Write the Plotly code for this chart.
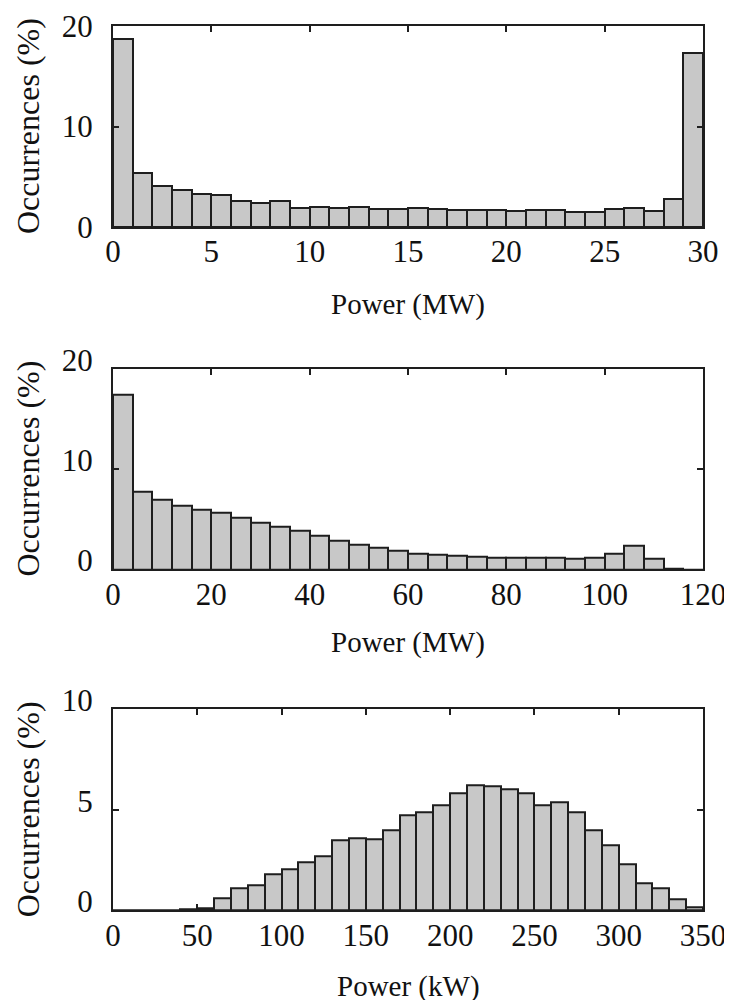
import plotly.graph_objects as go

# ---------------- data ----------------
# Panel 1: power in MW, 1 MW bins from 0 to 30
p1_bin_width = 1
p1_values = [18.7, 5.4, 4.05, 3.7, 3.3, 3.15, 2.6, 2.4, 2.55, 1.9,
             1.95, 1.9, 2.0, 1.8, 1.8, 1.85, 1.8, 1.65, 1.65, 1.65,
             1.6, 1.65, 1.65, 1.5, 1.45, 1.75, 1.9, 1.6, 2.8, 17.35]

# Panel 2: power in MW, 4 MW bins from 0 to 120
p2_bin_width = 4
p2_values = [17.4, 7.7, 6.9, 6.3, 5.9, 5.6, 5.1, 4.6, 4.2, 3.8,
             3.4, 2.85, 2.5, 2.2, 1.9, 1.58, 1.5, 1.35, 1.3, 1.15,
             1.15, 1.15, 1.2, 1.05, 1.15, 1.55, 2.4, 1.1, 0.07, 0.0]

# Panel 3: power in kW, 10 kW bins from 0 to 350
p3_bin_width = 10
p3_values = [0.0, 0.0, 0.0, 0.0, 0.03, 0.08, 0.6, 1.07, 1.22, 1.79,
             2.04, 2.4, 2.69, 3.48, 3.6, 3.53, 4.0, 4.74, 4.88, 5.24,
             5.84, 6.22, 6.17, 6.03, 5.84, 5.24, 5.37, 4.89, 3.98, 3.25,
             2.27, 1.34, 1.11, 0.53, 0.15]

x_titles = ["Power (MW)", "Power (MW)", "Power (kW)"]
y_title = "Occurrences (%)"
x_ranges = [[0, 30], [0, 120], [0, 350]]
x_dticks = [5, 20, 50]
y_ranges = [[0, 20], [0, 20], [0, 10]]
y_dticks = [10, 10, 5]

# ---------------- figure ----------------
W, H = 732, 1000
FONT = "Liberation Serif, Times New Roman, serif"
BAR_FILL = "#c8c8c8"
EDGE = "#1e1e1e"
TXT = "#111111"

panels = [(p1_values, p1_bin_width), (p2_values, p2_bin_width), (p3_values, p3_bin_width)]

# plot-area positions in pixels (top, bottom)
x_left, x_right = 105, 695
y_px = [(18, 219), (360.7, 561.3), (701.3, 902.3)]
x_title_y = [296.5, 634, 978]
y_title_x = 19.5
y_label_shift = [0, -9, -9]

fig = go.Figure()
for i, (vals, bw) in enumerate(panels):
    centers = [bw * k + bw / 2 for k in range(len(vals))]
    sfx = "" if i == 0 else str(i + 1)
    fig.add_trace(go.Bar(
        x=centers, y=vals, width=[bw] * len(vals),
        marker=dict(color=BAR_FILL, line=dict(color=EDGE, width=2)),
        xaxis="x" + sfx, yaxis="y" + sfx, showlegend=False,
        hoverinfo="x+y",
    ))
    top, bot = y_px[i]
    axis_common = dict(
        showline=True, linecolor=EDGE, linewidth=2, mirror="allticks",
        ticks="inside", ticklen=6, tickwidth=1.5, tickcolor=EDGE,
        showgrid=False, zeroline=False, automargin=False,
        tickfont=dict(family=FONT, size=31, color=TXT),
        ticklabeloverflow="allow",
        fixedrange=True,
    )
    fig.update_layout(**{
        "xaxis" + sfx: dict(
            axis_common,
            domain=[x_left / W, x_right / W],
            range=x_ranges[i], dtick=x_dticks[i], tick0=0,
            anchor="y" + sfx,
            ticklabelstandoff=-4,
        ),
        "yaxis" + sfx: dict(
            axis_common,
            domain=[1 - bot / H, 1 - top / H],
            range=y_ranges[i], dtick=y_dticks[i], tick0=0,
            anchor="x" + sfx,
            ticklabelstandoff=12,
            ticklabelshift=y_label_shift[i],
        ),
    })
    fig.add_annotation(
        text=x_titles[i], xref="paper", yref="paper",
        x=(x_left + x_right) / 2 / W, y=1 - x_title_y[i] / H,
        xanchor="center", yanchor="middle", showarrow=False,
        font=dict(family=FONT, size=29, color=TXT),
    )
    fig.add_annotation(
        text=y_title, xref="paper", yref="paper",
        x=y_title_x / W, y=1 - (top + bot) / 2 / H,
        xanchor="center", yanchor="middle", showarrow=False, textangle=-90,
        font=dict(family=FONT, size=32, color=TXT),
    )

fig.update_layout(
    width=W, height=H,
    margin=dict(l=0, r=0, t=0, b=0),
    paper_bgcolor="white", plot_bgcolor="white",
    bargap=0,
)

fig.write_html("out.html")
